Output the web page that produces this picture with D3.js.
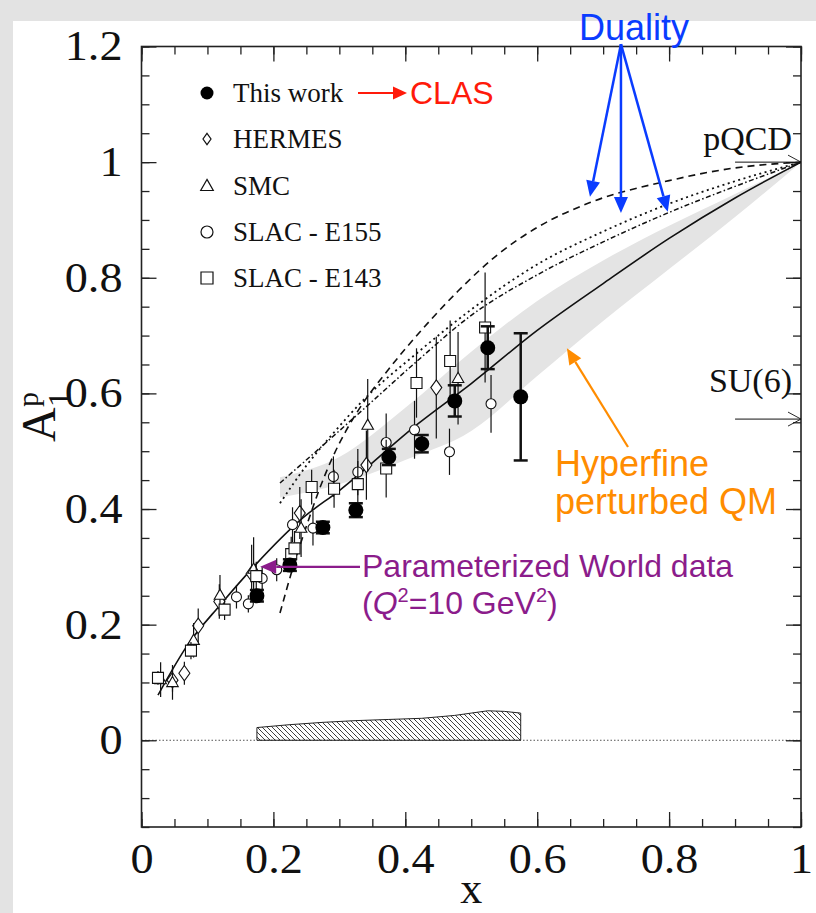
<!DOCTYPE html>
<html>
<head>
<meta charset="utf-8">
<script src="https://cdn.jsdelivr.net/npm/d3@7"></script>
<style>
  body { margin: 0; background: #e3e3e3; }
</style>
</head>
<body>
<div id="chart"></div>
<script>
// ---- data ----
// CLAS ("This work")
var clasX = [0.175, 0.225, 0.275, 0.325, 0.375, 0.425, 0.475, 0.525, 0.575];
var clasY = [0.25, 0.303, 0.368, 0.398, 0.49, 0.513, 0.587, 0.679, 0.594];
var clasErr = [0.01, 0.01, 0.01, 0.012, 0.014, 0.015, 0.027, 0.037, 0.11];

// HERMES
var hermesX = [0.047, 0.065, 0.086, 0.118, 0.167, 0.24, 0.341, 0.447];
var hermesY = [0.104, 0.116, 0.198, 0.24, 0.288, 0.393, 0.476, 0.61];
var hermesErr = [0.02, 0.02, 0.03, 0.03, 0.05, 0.045, 0.06, 0.088];

// SMC
var smcX = [0.029, 0.047, 0.079, 0.119, 0.17, 0.242, 0.343, 0.48];
var smcY = [0.105, 0.1, 0.173, 0.251, 0.296, 0.367, 0.545, 0.626];
var smcErr = [0.03, 0.03, 0.03, 0.035, 0.055, 0.05, 0.08, 0.08];

// SLAC E155
var e155X = [0.144, 0.162, 0.183, 0.205, 0.229, 0.26, 0.291, 0.328, 0.371, 0.414, 0.467, 0.53];
var e155Y = [0.248, 0.236, 0.28, 0.295, 0.373, 0.367, 0.456, 0.464, 0.515, 0.537, 0.499, 0.582];
var e155Err = [0.02, 0.015, 0.02, 0.02, 0.03, 0.03, 0.035, 0.04, 0.05, 0.05, 0.04, 0.05];

// SLAC E143
var e143X = [0.025, 0.075, 0.126, 0.174, 0.227, 0.232, 0.258, 0.292, 0.328, 0.371, 0.417, 0.468, 0.521];
var e143Y = [0.108, 0.155, 0.226, 0.284, 0.322, 0.332, 0.438, 0.435, 0.443, 0.47, 0.618, 0.656, 0.714];
var e143Err = [0.012, 0.015, 0.018, 0.025, 0.03, 0.03, 0.03, 0.033, 0.04, 0.05, 0.06, 0.07, 0.095];

// parameterized world data (solid)
var worldX = [0.025, 0.07, 0.12, 0.17, 0.245, 0.3, 0.42, 0.5, 0.6, 0.7, 0.8, 0.9, 1.0];
var worldY = [0.078, 0.165, 0.235, 0.3, 0.385, 0.432, 0.548, 0.617, 0.709, 0.79, 0.868, 0.938, 1.0];

// duality curves
var dashX = [0.21, 0.23, 0.25, 0.27, 0.29, 0.31, 0.34, 0.37, 0.4, 0.44, 0.48, 0.54, 0.6, 0.68, 0.8, 0.9, 1.0];
var dashY = [0.22, 0.30, 0.37, 0.435, 0.49, 0.535, 0.59, 0.635, 0.677, 0.729, 0.777, 0.84, 0.887, 0.93, 0.968, 0.99, 1.0];
var dotX = [0.21, 0.25, 0.29, 0.336, 0.417, 0.5, 0.6, 0.7, 0.8, 0.9, 1.0];
var dotY = [0.41, 0.475, 0.53, 0.588, 0.669, 0.745, 0.823, 0.88, 0.928, 0.967, 1.0];
var dashDotX = [0.21, 0.27, 0.336, 0.417, 0.5, 0.6, 0.7, 0.8, 0.9, 1.0];
var dashDotY = [0.445, 0.505, 0.572, 0.655, 0.735, 0.805, 0.862, 0.913, 0.958, 1.0];

// hyperfine perturbed QM band
var bandX = [0.21, 0.3, 0.4, 0.5, 0.6, 0.7, 0.8, 0.9, 1.0];
var bandHi = [0.455, 0.49, 0.575, 0.672, 0.76, 0.83, 0.89, 0.945, 1.0];
var bandLo = [0.42, 0.443, 0.485, 0.535, 0.63, 0.725, 0.815, 0.905, 1.0];

// systematic error band
var sysX = [0.175, 0.225, 0.275, 0.325, 0.375, 0.425, 0.475, 0.5, 0.525, 0.55, 0.575];
var sysY = [0.022, 0.027, 0.031, 0.034, 0.036, 0.038, 0.043, 0.047, 0.051, 0.05, 0.047];

// axes
var xTicks = [0, 0.2, 0.4, 0.6, 0.8, 1];
var xTickLabels = ["0", "0.2", "0.4", "0.6", "0.8", "1"];
var yTicks = [0, 0.2, 0.4, 0.6, 0.8, 1, 1.2];
var yTickLabels = ["0", "0.2", "0.4", "0.6", "0.8", "1", "1.2"];

var legendNames = ["This work", "HERMES", "SMC", "SLAC - E155", "SLAC - E143"];
var legendShapes = ["dot", "diamond", "triangle", "circle", "square"];

var serif = "'Liberation Serif', 'Times New Roman', serif";
var sans = "'Liberation Sans', Arial, sans-serif";

// ---- svg ----
var W = 816, H = 913;
var svg = d3.select("#chart").append("svg")
  .attr("width", W).attr("height", H);

svg.append("rect").attr("width", W).attr("height", H).attr("fill", "#e3e3e3");
svg.append("rect").attr("x", 13).attr("y", 21).attr("width", W - 13).attr("height", H - 21).attr("fill", "#fff");

var x = d3.scaleLinear().domain([0, 1]).range([141.5, 801]);
var y = d3.scaleLinear().domain([-0.15, 1.2]).range([827, 46.5]);

var defs = svg.append("defs");
var pat = defs.append("pattern")
  .attr("id", "hatch").attr("patternUnits", "userSpaceOnUse")
  .attr("width", 5).attr("height", 5);
pat.append("path")
  .attr("d", "M-1,-1 L1,1 M0,0 L5,5 M4,4 L6,6")
  .attr("stroke", "#333").attr("stroke-width", 0.9);

var clip = defs.append("clipPath").attr("id", "plotclip");
clip.append("rect").attr("x", x(0)).attr("y", y(1.2)).attr("width", x(1) - x(0)).attr("height", y(-0.15) - y(1.2));

var plot = svg.append("g").attr("clip-path", "url(#plotclip)");

// grey band
var band = bandX.map(function(d, i) { return {x: d, lo: bandLo[i], hi: bandHi[i]}; });
plot.append("path")
  .datum(band)
  .attr("fill", "#e4e4e4")
  .attr("d", d3.area().curve(d3.curveMonotoneX)
    .x(function(d) { return x(d.x); })
    .y0(function(d) { return y(d.lo); })
    .y1(function(d) { return y(d.hi); }));

// zero line
plot.append("line")
  .attr("x1", x(0)).attr("x2", x(1)).attr("y1", y(0)).attr("y2", y(0))
  .attr("stroke", "#555").attr("stroke-width", 1).attr("stroke-dasharray", "1.5,2");

// systematic band
var sys = sysX.map(function(d, i) { return {x: d, y: sysY[i]}; });
plot.append("path")
  .datum(sys)
  .attr("fill", "url(#hatch)")
  .attr("stroke", "#222").attr("stroke-width", 1)
  .attr("d", d3.area().x(function(d) { return x(d.x); }).y0(y(0)).y1(function(d) { return y(d.y); }));

// curves
function curve(xs, ys, dash, width) {
  var pts = xs.map(function(d, i) { return [x(d), y(ys[i])]; });
  plot.append("path")
    .datum(pts)
    .attr("fill", "none")
    .attr("stroke", "#111")
    .attr("stroke-width", width)
    .attr("stroke-dasharray", dash)
    .attr("d", d3.line().curve(d3.curveMonotoneX));
}
curve(dashX, dashY, "7,5", 1.6);
curve(dotX, dotY, "2,3.5", 1.8);
curve(dashDotX, dashDotY, "5,2.5,1.5,2.5", 1.5);
curve(worldX, worldY, null, 1.6);

// markers
function markerPath(shape, s) {
  if (shape === "diamond") return "M0," + (-s * 1.4) + "L" + s + ",0L0," + (s * 1.4) + "L" + (-s) + ",0Z";
  if (shape === "triangle") return "M0," + (-s * 1.1) + "L" + (s * 1.05) + "," + (s * 0.75) + "L" + (-s * 1.05) + "," + (s * 0.75) + "Z";
  if (shape === "square") return "M" + (-s) + "," + (-s) + "h" + (2 * s) + "v" + (2 * s) + "h" + (-2 * s) + "Z";
  return d3.arc()({innerRadius: 0, outerRadius: s, startAngle: 0, endAngle: 2 * Math.PI});
}

function series(xs, ys, errs, shape, size) {
  var g = plot.append("g");
  var pts = xs.map(function(d, i) { return {x: d, y: ys[i], e: errs[i]}; });
  g.selectAll("line.err").data(pts).enter().append("line")
    .attr("x1", function(d) { return x(d.x); })
    .attr("x2", function(d) { return x(d.x); })
    .attr("y1", function(d) { return y(d.y - d.e); })
    .attr("y2", function(d) { return y(d.y + d.e); })
    .attr("stroke", "#111").attr("stroke-width", 1.2);
  g.selectAll("path.mk").data(pts).enter().append("path")
    .attr("transform", function(d) { return "translate(" + x(d.x) + "," + y(d.y) + ")"; })
    .attr("d", markerPath(shape, size))
    .attr("fill", "#fff").attr("stroke", "#111").attr("stroke-width", 1.1);
}
series(hermesX, hermesY, hermesErr, "diamond", 5.5);
series(smcX, smcY, smcErr, "triangle", 5.5);
series(e155X, e155Y, e155Err, "circle", 5);
series(e143X, e143Y, e143Err, "square", 5.5);

// CLAS points with thick error bars and caps
var clas = clasX.map(function(d, i) { return {x: d, y: clasY[i], e: clasErr[i]}; });
var cg = plot.append("g");
cg.selectAll("line.bar").data(clas).enter().append("line")
  .attr("x1", function(d) { return x(d.x); }).attr("x2", function(d) { return x(d.x); })
  .attr("y1", function(d) { return y(d.y - d.e); }).attr("y2", function(d) { return y(d.y + d.e); })
  .attr("stroke", "#111").attr("stroke-width", 2.5);
[-1, 1].forEach(function(sgn) {
  cg.selectAll("line.cap" + sgn).data(clas).enter().append("line")
    .attr("x1", function(d) { return x(d.x) - 7; }).attr("x2", function(d) { return x(d.x) + 7; })
    .attr("y1", function(d) { return y(d.y + sgn * d.e); }).attr("y2", function(d) { return y(d.y + sgn * d.e); })
    .attr("stroke", "#111").attr("stroke-width", 2.5);
});
cg.selectAll("circle").data(clas).enter().append("circle")
  .attr("cx", function(d) { return x(d.x); }).attr("cy", function(d) { return y(d.y); })
  .attr("r", 7.5).attr("fill", "#000");

// ---- axes ----
var frame = svg.append("g");
function minorTicks(lo, hi) { return d3.range(Math.round(lo * 20), Math.round(hi * 20) + 1).map(function(k) { return k / 20; }); }
var xMinor = minorTicks(0, 1);
var yMinor = minorTicks(-0.15, 1.2);

frame.append("g").attr("transform", "translate(0," + y(-0.15) + ")")
  .call(d3.axisBottom(x).tickValues(xMinor).tickSize(-8).tickFormat(""));
frame.append("g").attr("transform", "translate(0," + y(1.2) + ")")
  .call(d3.axisTop(x).tickValues(xMinor).tickSize(-8).tickFormat(""));
frame.append("g").attr("transform", "translate(" + x(0) + ",0)")
  .call(d3.axisLeft(y).tickValues(yMinor).tickSize(-8).tickFormat(""));
frame.append("g").attr("transform", "translate(" + x(1) + ",0)")
  .call(d3.axisRight(y).tickValues(yMinor).tickSize(-8).tickFormat(""));

var xAxis = frame.append("g").attr("transform", "translate(0," + y(-0.15) + ")")
  .call(d3.axisBottom(x).tickValues(xTicks).tickSize(-15).tickPadding(16)
    .tickFormat(function(d, i) { return xTickLabels[i]; }));
frame.append("g").attr("transform", "translate(0," + y(1.2) + ")")
  .call(d3.axisTop(x).tickValues(xTicks).tickSize(-15).tickFormat(""));
var yAxis = frame.append("g").attr("transform", "translate(" + x(0) + ",0)")
  .call(d3.axisLeft(y).tickValues(yTicks).tickSize(-15).tickPadding(0)
    .tickFormat(function(d, i) { return yTickLabels[i]; }));
frame.append("g").attr("transform", "translate(" + x(1) + ",0)")
  .call(d3.axisRight(y).tickValues(yTicks).tickSize(-15).tickFormat(""));

frame.selectAll(".domain").remove();
frame.selectAll(".tick line").attr("stroke", "#222").attr("stroke-width", 1.3);
frame.selectAll(".tick text").attr("font-family", serif).attr("font-size", 42).attr("fill", "#111");
// the original labels are a little wider than plain Times
xAxis.selectAll(".tick text").attr("transform", "scale(1.1,1)");
yAxis.selectAll(".tick text").attr("x", 0).attr("transform", "translate(-19,0) scale(1.1,1)");

frame.append("rect")
  .attr("x", x(0)).attr("y", y(1.2)).attr("width", x(1) - x(0)).attr("height", y(-0.15) - y(1.2))
  .attr("fill", "none").attr("stroke", "#222").attr("stroke-width", 1.6);

// axis titles
svg.append("text").attr("x", x(0.5)).attr("y", 903).attr("text-anchor", "middle")
  .attr("font-family", serif).attr("font-size", 44).attr("fill", "#111").text("x");

var yt = svg.append("g").attr("transform", "translate(55,442) rotate(-90)")
  .attr("font-family", serif).attr("fill", "#111");
yt.append("text").attr("x", 0).attr("y", 0).attr("font-size", 48).text("A");
yt.append("text").attr("x", 35).attr("y", -17).attr("font-size", 30).text("p");
yt.append("text").attr("x", 35).attr("y", 15).attr("font-size", 32).text("1");

// ---- legend ----
var legRows = [93, 139, 186, 232, 278];
var leg = svg.append("g");
legendNames.forEach(function(name, i) {
  var shape = legendShapes[i];
  var g = leg.append("g").attr("transform", "translate(207," + legRows[i] + ")");
  if (shape === "dot") {
    g.append("circle").attr("r", 6.5).attr("fill", "#000");
  } else {
    g.append("path").attr("d", markerPath(shape, shape === "diamond" ? 4 : 6))
      .attr("fill", "#fff").attr("stroke", "#111").attr("stroke-width", 1.2);
  }
  leg.append("text").attr("x", 233).attr("y", legRows[i] + 9)
    .attr("font-family", serif).attr("font-size", 27).attr("fill", "#111").text(name);
});

// ---- annotations ----
function arrow(x1, y1, x2, y2, color, w, hl, hw) {
  var a = Math.atan2(y2 - y1, x2 - x1);
  var bx = x2 - hl * Math.cos(a), by = y2 - hl * Math.sin(a);
  svg.append("line").attr("x1", x1).attr("y1", y1).attr("x2", bx).attr("y2", by)
    .attr("stroke", color).attr("stroke-width", w);
  var px = -Math.sin(a) * hw / 2, py = Math.cos(a) * hw / 2;
  svg.append("path")
    .attr("d", "M" + x2 + "," + y2 + "L" + (bx + px) + "," + (by + py) + "L" + (bx - px) + "," + (by - py) + "Z")
    .attr("fill", color);
}
function openArrow(x1, y1, x2, y2) {
  svg.append("line").attr("x1", x1).attr("y1", y1).attr("x2", x2).attr("y2", y2)
    .attr("stroke", "#111").attr("stroke-width", 1);
  svg.append("path").attr("d", "M" + (x2 - 13) + "," + (y2 - 7) + "L" + x2 + "," + y2 + "L" + (x2 - 13) + "," + (y2 + 7))
    .attr("fill", "none").attr("stroke", "#111").attr("stroke-width", 0.9);
}

// pQCD and SU(6)
openArrow(x(0.9), y(1), x(1), y(1));
svg.append("text").attr("x", 792).attr("y", 150).attr("text-anchor", "end")
  .attr("font-family", serif).attr("font-size", 34).attr("fill", "#111").text("pQCD");
openArrow(x(0.9), y(5 / 9), x(1), y(5 / 9));
svg.append("text").attr("x", 792).attr("y", 392).attr("text-anchor", "end")
  .attr("font-family", serif).attr("font-size", 34).attr("fill", "#111").text("SU(6)");

// CLAS
var red = "#ff1a0a";
arrow(358, 93, 407, 93, red, 2, 14, 13);
svg.append("text").attr("x", 410).attr("y", 104)
  .attr("font-family", sans).attr("font-size", 32).attr("fill", red).text("CLAS");

// Duality
var blue = "#0a3cff";
svg.append("text").attr("x", 634).attr("y", 40).attr("text-anchor", "middle")
  .attr("font-family", sans).attr("font-size", 36).attr("fill", blue).text("Duality");
var dOrigin = [x(0.727), y(1.204)];
[[0.68, 0.94], [0.727, 0.912], [0.798, 0.914]].forEach(function(t) {
  arrow(dOrigin[0], dOrigin[1], x(t[0]), y(t[1]), blue, 2.5, 16, 14);
});

// Hyperfine
var orange = "#ff8c00";
arrow(628, 447, x(0.645), y(0.678), orange, 2.2, 16, 14);
svg.append("text").attr("x", 555).attr("y", 476)
  .attr("font-family", sans).attr("font-size", 36).attr("fill", orange).text("Hyperfine");
svg.append("text").attr("x", 555).attr("y", 514)
  .attr("font-family", sans).attr("font-size", 36).attr("fill", orange).text("perturbed QM");

// Parameterized world data
var purple = "#8b1c8b";
arrow(360, y(0.3), x(0.18), y(0.3), purple, 2.2, 16, 14);
svg.append("text").attr("x", 362).attr("y", 577)
  .attr("font-family", sans).attr("font-size", 32).attr("fill", purple).text("Parameterized World data");
var q = svg.append("text").attr("x", 362).attr("y", 614)
  .attr("font-family", sans).attr("font-size", 32).attr("fill", purple);
q.append("tspan").text("(");
q.append("tspan").attr("font-style", "italic").text("Q");
q.append("tspan").attr("font-size", 20).attr("dy", -12).text("2");
q.append("tspan").attr("dy", 12).text("=10 GeV");
q.append("tspan").attr("font-size", 20).attr("dy", -12).text("2");
q.append("tspan").attr("dy", 12).text(")");
</script>
</body>
</html>
